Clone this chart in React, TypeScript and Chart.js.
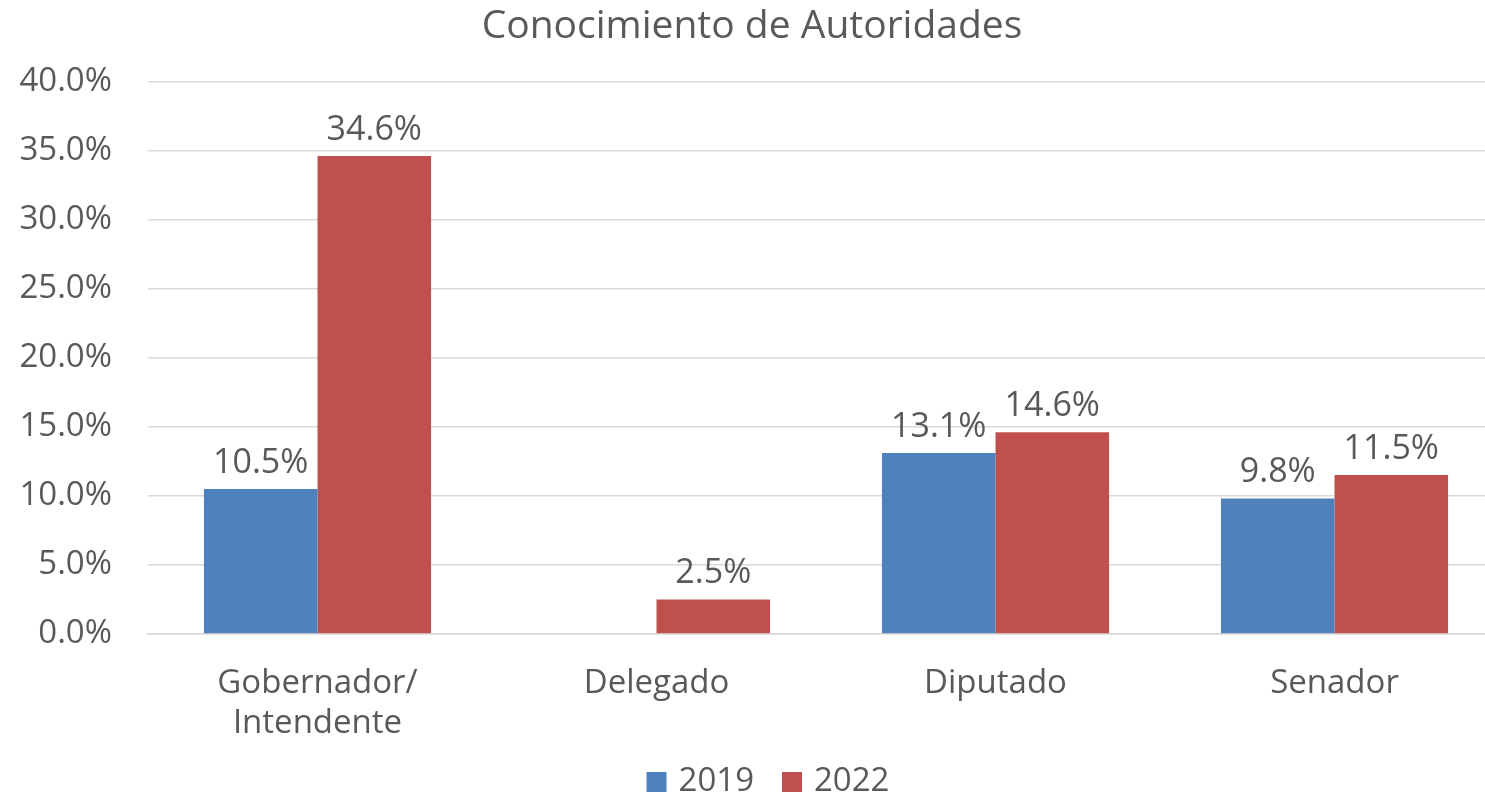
import React, { useEffect, useRef } from "react";
import { Chart, registerables } from "chart.js";

Chart.register(...registerables);

const categories: (string | string[])[] = [["Gobernador/", "Intendente"], "Delegado", "Diputado", "Senador"];
const series2019: (number | null)[] = [10.5, null, 13.1, 9.8];
const series2022: (number | null)[] = [34.6, 2.5, 14.6, 11.5];
const seriesNames = ["2019", "2022"];
const seriesColors = ["#4F81BD", "#C0504D"];
const yTicks = [0, 5, 10, 15, 20, 25, 30, 35, 40];

const FONT = "'Open Sans', 'DejaVu Sans', sans-serif";
const TEXT = "#595959";

const labelPlugin = {
  id: "barLabels",
  afterDatasetsDraw(chart: any) {
    const ctx = chart.ctx;
    ctx.save();
    ctx.font = `34px ${FONT}`;
    ctx.fillStyle = TEXT;
    ctx.textAlign = "center";
    ctx.textBaseline = "bottom";
    chart.data.datasets.forEach((ds: any, i: number) => {
      const meta = chart.getDatasetMeta(i);
      meta.data.forEach((bar: any, j: number) => {
        const v = ds.data[j];
        if (v === null || v === undefined) return;
        ctx.fillText(v.toFixed(1) + "%", bar.x, bar.y - 9);
      });
    });
    ctx.restore();
  },
};

const legendPlugin = {
  id: "customLegend",
  afterDraw(chart: any) {
    const ctx = chart.ctx;
    ctx.save();
    ctx.font = `33px ${FONT}`;
    ctx.textBaseline = "alphabetic";
    ctx.textAlign = "left";
    const box = 20;
    const gapBoxText = 12;
    const gapItems = 28;
    const widths = seriesNames.map((n) => ctx.measureText(n).width);
    const total = widths.reduce((a, w) => a + box + gapBoxText + w, 0) + gapItems * (seriesNames.length - 1);
    let x = chart.width / 2 - total / 2;
    const baseline = 791;
    seriesNames.forEach((n, i) => {
      ctx.fillStyle = seriesColors[i];
      ctx.fillRect(x, baseline - 19, box, box);
      x += box + gapBoxText;
      ctx.fillStyle = TEXT;
      ctx.fillText(n, x, baseline);
      x += widths[i] + gapItems;
    });
    ctx.restore();
  },
};

export default function App() {
  const ref = useRef<HTMLCanvasElement>(null);
  useEffect(() => {
    if (!ref.current) return;
    const chart = new Chart(ref.current, {
      type: "bar",
      data: {
        labels: categories as any,
        datasets: [
          { label: seriesNames[0], data: series2019, backgroundColor: seriesColors[0] },
          { label: seriesNames[1], data: series2022, backgroundColor: seriesColors[1] },
        ],
      },
      options: {
        animation: false,
        responsive: false,
        maintainAspectRatio: false,
        layout: { padding: { top: 0, right: 32, bottom: 61, left: 0 } },
        datasets: { bar: { barPercentage: 1, categoryPercentage: 0.67 } } as any,
        plugins: {
          title: {
            display: true,
            text: "Conocimiento de Autoridades",
            color: TEXT,
            font: { family: FONT, size: 39, weight: "normal" },
            padding: { top: 3, bottom: 31.5 },
          },
          legend: { display: false },
          tooltip: { enabled: false },
        },
        scales: {
          x: {
            grid: { display: false },
            border: { display: true, color: "#D9D9D9", width: 1.5 },
            ticks: { color: TEXT, font: { family: FONT, size: 33 }, padding: 22 },
            afterFit(scale: any) {
              scale.height = 100;
            },
          },
          y: {
            min: 0,
            max: 40,
            afterBuildTicks(scale: any) {
              scale.ticks = yTicks.map((v) => ({ value: v }));
            },
            grid: { color: "#D9D9D9", drawTicks: false, lineWidth: 1.5 },
            border: { display: false },
            ticks: {
              color: TEXT,
              font: { family: FONT, size: 33 },
              padding: 36,
              callback: (v: any) => Number(v).toFixed(1) + "%",
            },
            afterFit(scale: any) {
              scale.width = 148;
            },
          },
        },
      },
      plugins: [labelPlugin, legendPlugin],
    });
    return () => chart.destroy();
  }, []);
  return (
    <div style={{ position: "fixed", left: 0, top: 0, width: 1485, height: 795, overflow: "hidden", background: "#fff" }}>
      <canvas ref={ref} width={1536} height={795} style={{ display: "block" }} />
    </div>
  );
}
